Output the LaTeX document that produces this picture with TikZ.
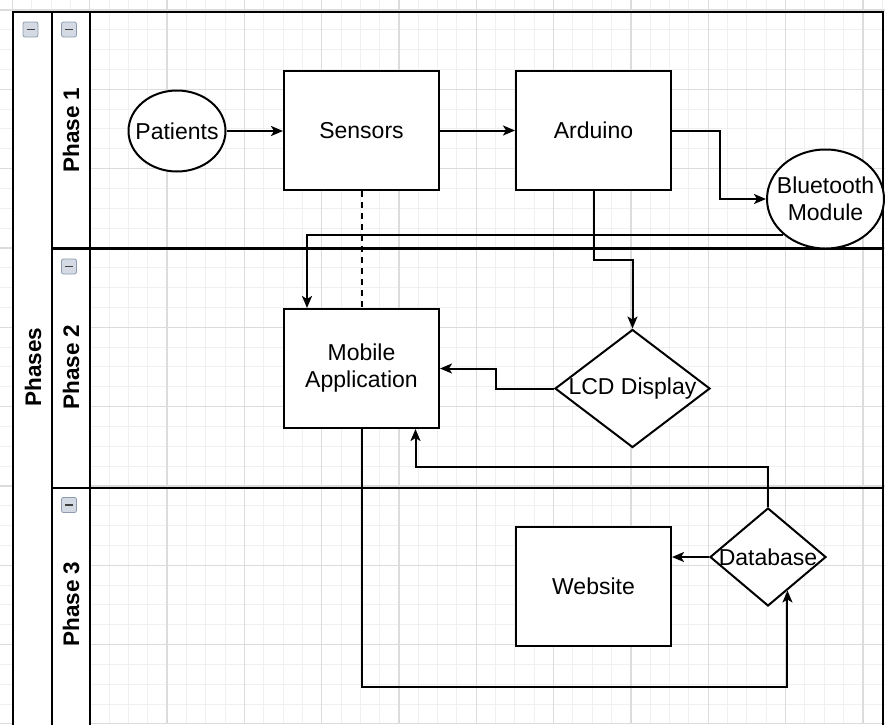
\documentclass[tikz,border=0pt]{standalone}
\usepackage{fontspec}
\setmainfont{Liberation Sans}
\usetikzlibrary{shapes.geometric,arrows.meta,calc}
\definecolor{minorgc}{HTML}{F0F0F0}
\definecolor{majorgc}{HTML}{DCDCDC}
\definecolor{iconfill}{HTML}{D3DAE4}
\definecolor{icondraw}{HTML}{8E9BAE}
\begin{document}
\begin{tikzpicture}[x=1pt,y=-1pt,
  minorg/.style={draw=minorgc,line width=1pt},
  majorg/.style={draw=majorgc,line width=1.2pt},
  frame/.style={draw=black,line width=2.2pt},
  conn/.style={draw=black,line width=2pt},
  arr/.style={conn,-{Stealth[length=12pt,width=10pt,inset=3pt]}},
  txt/.style={font=\fontsize{23}{27}\selectfont,text=black},
  box/.style={draw,line width=2pt,fill=white,minimum width=155pt,minimum height=119pt,inner sep=0pt,txt,align=center},
  oval/.style={ellipse,draw,line width=2pt,fill=white,inner sep=0pt},
  dia/.style={diamond,draw,line width=2pt,fill=white,inner sep=0pt},
  lanelbl/.style={rotate=90,font=\bfseries\fontsize{22.5}{26}\selectfont,text=black},
  icon/.style={draw=icondraw,fill=iconfill,line width=0.8pt,rounded corners=2pt,minimum width=15pt,minimum height=15pt,inner sep=0pt,
    path picture={\draw[black!75,line width=1.6pt] ([xshift=-4pt]path picture bounding box.center) -- ([xshift=4pt]path picture bounding box.center);}},
  every label/.style={txt,align=center}
]
\useasboundingbox (0,0) rectangle (885,724);
\fill[white] (0,0) rectangle (885,724);
% grid
\foreach \i in {-1,...,45} \draw[minorg] ({12.4+\i*19.33},0) -- ({12.4+\i*19.33},724);
\foreach \j in {-1,...,36} \draw[minorg] (0,{10+\j*19.83}) -- (885,{10+\j*19.83});
\foreach \i in {0,...,11} \draw[majorg] ({12.4+4*\i*19.33},0) -- ({12.4+4*\i*19.33},724);
\foreach \j in {0,...,9} \draw[majorg] (0,{10+4*\j*19.83}) -- (885,{10+4*\j*19.83});
% pool and lanes
\fill[white] (13,12) rectangle (90,728);
\draw[frame] (13,12) rectangle (883,728);
\draw[frame] (52,12) -- (52,728);
\draw[frame] (90,12) -- (90,728);
\draw[frame] (52,248.5) -- (883,248.5);
\draw[frame] (52,488) -- (883,488);
\node[icon] (ic0) at (30.5,29.5) {};
\node[icon] (ic1) at (69,29.5) {};
\node[icon] (ic2) at (69,266.5) {};
\node[icon] (ic3) at (69,505) {};
\node[lanelbl] (lp) at (33,367) {Phases};
\node[lanelbl] (l1) at (71,130) {Phase 1};
\node[lanelbl] (l2) at (71,367) {Phase 2};
\node[lanelbl] (l3) at (71,604) {Phase 3};
% nodes
\node[oval,minimum width=97pt,minimum height=81pt,label=center:Patients] (pat) at (177,131) {};
\node[box] (sen) at (361.5,130.5) {Sensors};
\node[box] (ard) at (593.5,130.5) {Arduino};
\node[oval,minimum width=117pt,minimum height=99pt,label={center:Bluetooth\\Module}] (bt) at (825.5,199) {};
\node[box] (mob) at (361.5,368.5) {Mobile\\Application};
\node[dia,minimum width=155pt,minimum height=118pt,label=center:LCD Display] (lcd) at (632.5,388.5) {};
\node[box] (web) at (593.5,586.5) {Website};
\node[dia,minimum width=116pt,minimum height=98pt,label=center:Database] (db) at (768,557) {};
\coordinate (dbin) at ($(db.south)!0.33!(db.east)$);
% connectors
\draw[arr] (pat.east) -- (sen.west |- pat.east);
\draw[arr] (sen.east) -- (ard.west);
\draw[arr] (ard.east) -- ++(48,0) |- (bt.west);
\draw[conn,dash pattern=on 6pt off 5pt] (sen.south) -- (mob.north);
\draw[arr] (bt.south west) -| ([xshift=-54.5pt]mob.north);
\draw[arr] (ard.south) -- ++(0,69) -| (lcd.north);
\draw[arr] (lcd.west) -- ++(-58,0) |- (mob.east);
\draw[arr] (db.north) -- ++(0,-40) -| ([xshift=54pt]mob.south);
\draw[arr] (db.west) -- (web.east |- db.west);
\draw[arr] (mob.south) |- ($(dbin)+(0,96)$) -- (dbin);
\end{tikzpicture}
\end{document}
